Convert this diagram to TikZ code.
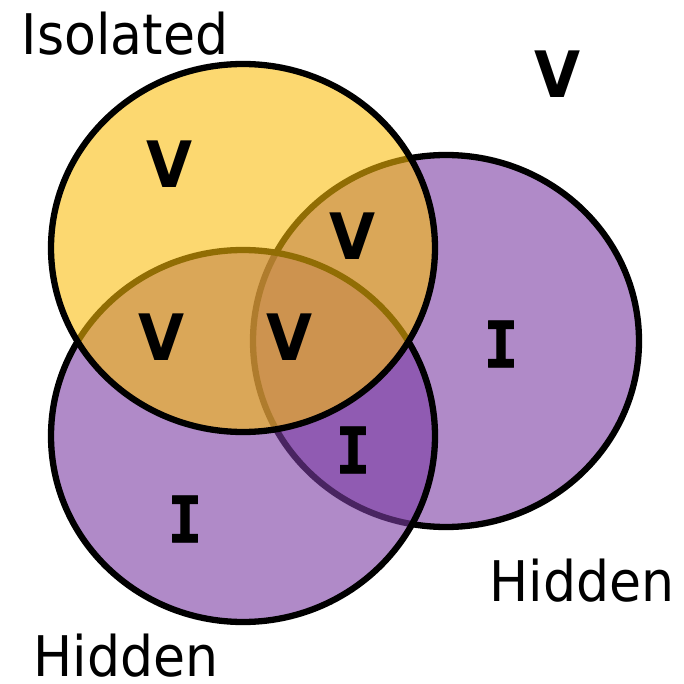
\documentclass[tikz,border=0pt]{standalone}
\usepackage{fontspec}
\setmainfont[FakeStretch=0.93]{DejaVu Sans}
\newfontfamily\monofnt[FakeStretch=0.9, BoldFeatures={FakeBold=1.2}]{DejaVu Sans Mono}
\definecolor{ylw}{RGB}{250,188,8}
\definecolor{prp}{RGB}{123,60,163}
\tikzset{
  setfill/.style={fill=#1, fill opacity=0.6, draw=black, line width=6.3pt},
  lbl/.style={anchor=base, inner sep=0pt, font=\fontsize{56}{60}\selectfont},
  vmark/.style={inner sep=0pt, font=\fontsize{64}{70}\selectfont\bfseries},
  imark/.style={inner sep=0pt, font=\fontsize{64}{70}\selectfont\monofnt\bfseries},
}
\begin{document}
\begin{tikzpicture}[x=1pt,y=-1pt]
\useasboundingbox (0,0) rectangle (683,684);
% right Hidden set
\draw[setfill=prp] (446,341) ellipse [x radius=193pt, y radius=186pt];
% bottom-left Hidden set
\draw[setfill=prp] (243,436) ellipse [x radius=192pt, y radius=186pt];
% Isolated set
\draw[setfill=ylw, fill opacity=0.58] (243,248) ellipse [x radius=192pt, y radius=184pt];
% labels
\node[lbl] (iso) at (125,55) {Isolated};
\node[lbl] (hidR) at (582,601) {Hidden};
\node[lbl] (hidL) at (126,676) {Hidden};
% marks
\node[vmark] (v0) at (558,74) {V};
\node[vmark] (v1) at (170,164) {V};
\node[vmark] (v2) at (353,236) {V};
\node[vmark] (v3) at (162,337) {V};
\node[vmark] (v4) at (290,337) {V};
\node[imark] (i1) at (501,344) {I};
\node[imark] (i2) at (353,450) {I};
\node[imark] (i3) at (185,519) {I};
\end{tikzpicture}
\end{document}
